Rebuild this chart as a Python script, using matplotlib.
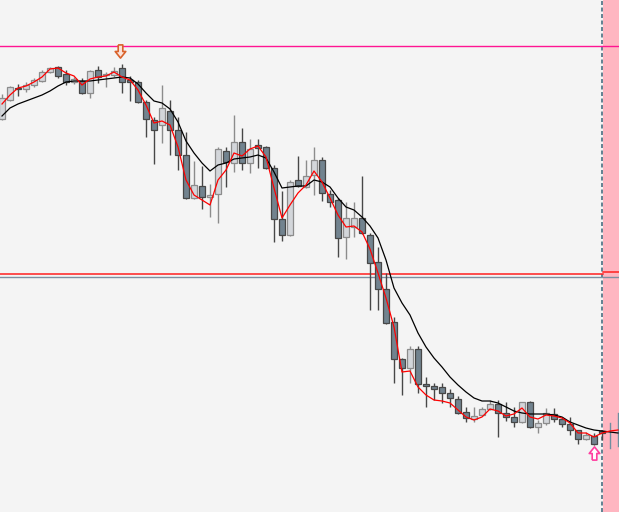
import numpy as np
import matplotlib
matplotlib.use("Agg")
import matplotlib.pyplot as plt
from matplotlib.path import Path

# candle levels (screen units, smaller = higher price)
opens = [119, 100, 88, 89, 85, 81, 72, 67, 74, 82, 81, 93, 70, 75, 75, 68, 80, 82, 102, 120,
         125, 111, 130, 155, 198, 186, 197, 194, 151, 163, 142, 163, 145, 147, 168, 219, 235, 180, 187, 175,
         160, 194, 200, 237, 227, 218, 235, 262, 289, 322, 359, 368, 349, 384, 386, 387, 393, 399, 412, 419,
         415, 409, 404, 413, 417, 422, 402, 427, 423, 414, 419, 424, 430, 439, 436, 431]
highs = [94, 86, 84, 82, 78, 70, 67, 66, 70, 77, 78, 70, 66, 72, 67, 64, 76, 80, 100, 117,
         85, 100, 117, 132, 161, 166, 184, 147, 147, 115, 128, 139, 139, 146, 165, 191, 180, 156, 160, 147,
         157, 190, 198, 202, 202, 176, 233, 247, 273, 317, 358, 346, 346, 377, 383, 383, 389, 396, 407, 407,
         407, 400, 400, 402, 407, 402, 401, 420, 408, 408, 417, 417, 430, 432, 433, 430]
lows = [120, 101, 96, 92, 87, 82, 73, 78, 85, 84, 94, 98, 83, 87, 77, 93, 101, 103, 137, 164,
        143, 155, 170, 199, 199, 209, 217, 223, 187, 172, 170, 173, 168, 169, 242, 241, 236, 187, 188, 195,
        201, 207, 257, 259, 237, 234, 310, 310, 324, 383, 395, 383, 393, 407, 400, 403, 407, 414, 422, 422,
        416, 410, 437, 421, 427, 423, 428, 433, 425, 422, 427, 435, 444, 440, 445, 440]
closes = [98, 87, 89, 85, 80, 72, 68, 76, 82, 79, 93, 71, 77, 74, 71, 82, 82, 102, 119, 130,
          108, 130, 155, 198, 185, 197, 195, 149, 162, 142, 163, 149, 148, 168, 219, 235, 182, 186, 176, 160,
          193, 202, 238, 218, 218, 233, 263, 289, 323, 359, 368, 349, 384, 386, 389, 393, 398, 413, 418, 416,
          409, 404, 413, 417, 422, 402, 427, 423, 413, 419, 424, 430, 439, 435, 444, 433]

# unfinished bars in the shaded zone
future_hi = [423, 413]
future_lo = [448, 446]

fast_ma = [104, 95, 88, 86, 82, 77, 69, 68, 73, 76, 85, 79, 77, 76, 72, 77, 80, 90, 105, 123,
           121, 125, 147, 180, 195, 200, 205, 180, 170, 153, 156, 149, 146, 157, 188, 218, 205, 193, 185, 171,
           182, 198, 215, 227, 226, 232, 249, 273, 298, 327, 372, 371, 387, 395, 400, 401, 403, 410, 417, 420,
           417, 409, 411, 416, 414, 408, 417, 419, 415, 416, 418, 423, 433, 433, 437, 433, 431, 430]
slow_ma = [116, 108, 104, 101, 98, 95, 91, 86, 82, 81, 81, 81, 80, 79, 78, 77, 78, 84, 93, 101,
           103, 109, 122, 141, 153, 163, 171, 165, 163, 159, 158, 157, 155, 158, 172, 188, 187, 186, 186, 180,
           182, 187, 198, 207, 210, 217, 226, 238, 260, 288, 303, 315, 333, 347, 358, 367, 377, 385, 392, 398,
           401, 401, 403, 407, 411, 413, 414, 414, 414, 415, 417, 422, 425, 428, 430, 431, 432, 433]

resist_level = 46
mid_level = 274
mid_level_future = 271.5
base_level = 276.5
sell_bar = 14.75
sell_level = 51
buy_bar = 74
buy_level = 453
now_bar = 75

fig = plt.figure(figsize=(6.19, 5.12), dpi=100)
ax = fig.add_axes([0, 0, 1, 1])
ax.set_facecolor("#f4f4f4")
fig.patch.set_facecolor("#f4f4f4")

n_all = len(fast_ma)
ax.set_xlim(-0.25, 77.125)
ax.set_ylim(512, 0)

# shaded zone + current bar marker
ax.axvspan(now_bar + 0.1, 80, color="#ffb6c1", lw=0, zorder=0)
ax.axvline(now_bar, color="#56788a", lw=1.3, ls=(0, (2.2, 1.4)), zorder=1)

# levels
ax.axhline(resist_level, color="#ff1493", lw=1.0, zorder=1)
ax.plot([-1, now_bar + 0.1], [mid_level, mid_level], color="#ff2020", lw=1.1, zorder=1)
ax.plot([now_bar + 0.1, 80], [mid_level_future, mid_level_future], color="#ff2020", lw=1.1, zorder=1)
ax.axhline(base_level, color="#7d8fa0", lw=1.0, zorder=1)

# candles
w = 0.7
for i in range(len(opens)):
    o, h, l, c = opens[i], highs[i], lows[i], closes[i]
    up = c < o
    edge = "#8c8c8c" if up else "#474747"
    fill = "#d3d6da" if up else "#72838f"
    ax.plot([i, i], [h, l], color=edge, lw=1.0, zorder=2, solid_capstyle="butt")
    top, bot = min(o, c), max(o, c)
    ax.add_patch(plt.Rectangle((i - w / 2, top), w, max(bot - top, 1.0),
                               facecolor=fill, edgecolor=edge, lw=0.9, zorder=3))

for k in range(len(future_hi)):
    ax.plot([len(opens) + k, len(opens) + k], [future_hi[k], future_lo[k]],
            color="#6f8fa0", lw=1.0, zorder=2)

xs = np.arange(n_all)
ax.plot(xs, slow_ma, color="black", lw=0.9, zorder=4)
ax.plot(xs, fast_ma, color="red", lw=0.9, zorder=5)

# signal arrows (hollow)
down = Path([(-0.35, 1), (0.35, 1), (0.35, 0), (0.8, 0), (0, -1), (-0.8, 0), (-0.35, 0), (-0.35, 1)])
upa = Path([(-0.35, -1), (0.35, -1), (0.35, 0), (0.8, 0), (0, 1), (-0.8, 0), (-0.35, 0), (-0.35, -1)])
ax.plot([sell_bar], [sell_level], marker=down, ms=9.5, mfc="#fbe2d8", mec="#d9622b", mew=1.2, zorder=6)
ax.plot([buy_bar], [buy_level], marker=upa, ms=9.5, mfc="#ffffff", mec="#ff3fa0", mew=1.2, zorder=6)

ax.axis("off")
fig.savefig("out.png", dpi=100, facecolor=fig.get_facecolor())
